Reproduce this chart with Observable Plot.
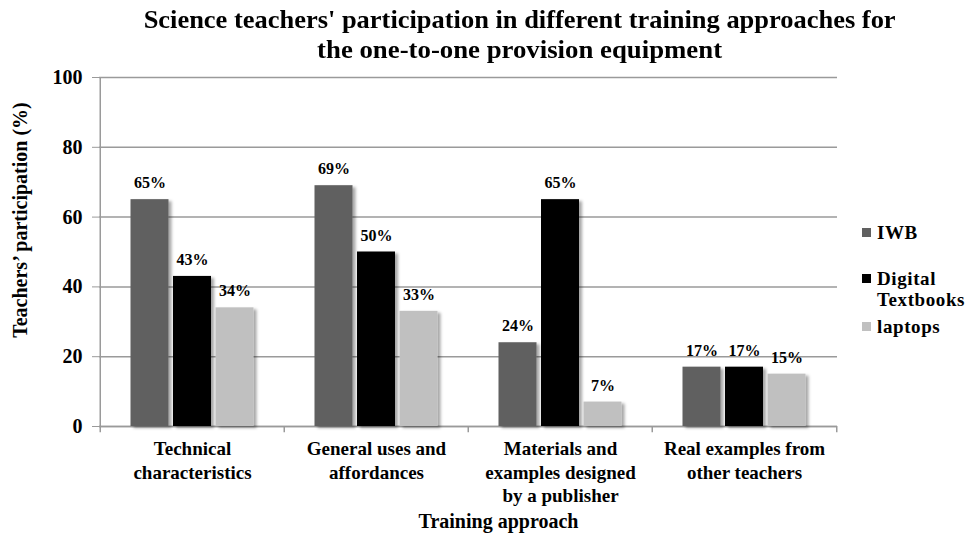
<!DOCTYPE html>
<html>
<head>
<meta charset="utf-8">
<script src="https://cdn.jsdelivr.net/npm/d3@7"></script>
<script src="https://cdn.jsdelivr.net/npm/@observablehq/plot@0.6"></script>
<style>
  body { margin: 0; background: #fff; }
  #wrap { position: relative; width: 971px; height: 533px; font-family: "Liberation Serif", "Times New Roman", serif; font-weight: bold; color: #000; }
  #title { height: 66px; box-sizing: border-box; padding-top: 5px; text-align: center; }
  #title span { display: inline-block; font-size: 26px; line-height: 30px; white-space: nowrap; transform-origin: center; }
  #chart svg, #chart svg text { font-family: "Liberation Serif", "Times New Roman", serif !important; font-weight: bold; }
  .leg { position: absolute; left: 862px; display: flex; align-items: flex-start; font-size: 19px; line-height: 21px; letter-spacing: 0.6px; }
  .leg i { display: inline-block; width: 9px; height: 9px; margin-top: 6px; margin-right: 6px; }
  .leg span { width: 100px; }
</style>
</head>
<body>
<div id="wrap">
  <div id="title"></div>
  <div id="chart"></div>
</div>
<script>
const titleLines = ["Science teachers' participation in  different training approaches for", "the one-to-one provision equipment"];
const categories = ["Technical characteristics", "General uses and affordances", "Materials and examples designed by a publisher", "Real examples from other teachers"];
const tickLabels = ["Technical\ncharacteristics", "General uses and\naffordances", "Materials and\nexamples designed\nby a publisher", "Real examples from\nother teachers"];
const seriesNames = ["IWB", "Digital Textbooks", "laptops"];
const iwb = [65, 69, 24, 17];
const digital = [43, 50, 65, 17];
const laptops = [34, 33, 7, 15];
const colors = ["#606060", "#000000", "#c0c0c0"];
const yTicks = [0, 20, 40, 60, 80, 100];
const xLabel = "Training approach";
const yLabel = "Teachers\u2019 participation (%)";

const seriesValues = [iwb, digital, laptops];
const rows = [];
seriesNames.forEach((s, si) => categories.forEach((c, ci) => rows.push({series: s, si, category: c, value: seriesValues[si][ci]})));

const FONT = '"Liberation Serif", "Times New Roman", serif';
const W = 971, H = 467, mL = 99, mR = 134, mT = 11, mB = 107;
const band = (W - mL - mR) / categories.length;
const step = 42.5, barW = 38.5;
const inset = (band - barW) / 2;

// title
const t = document.getElementById("title");
t.style.paddingLeft = "68px";
titleLines.forEach((line, i) => {
  const s = document.createElement("span");
  s.textContent = line;
  t.appendChild(s);
  t.appendChild(document.createElement("br"));
});

const marks = [
  Plot.gridY({ticks: yTicks, stroke: "#9a9a9a", strokeOpacity: 1, strokeWidth: 1.5}),
  Plot.ruleY([0], {stroke: "#9a9a9a", strokeWidth: 1.5}),
  Plot.ruleX(categories, {x: d => d, dx: -band / 2, y1: -1.8, y2: (d, i) => i === 0 ? 100 : 0, stroke: "#9a9a9a", strokeWidth: 1.5}),
  Plot.ruleX([categories[categories.length - 1]], {x: d => d, dx: band / 2, y1: -1.8, y2: 0, stroke: "#9a9a9a", strokeWidth: 1.5}),
];
seriesNames.forEach((s, si) => {
  const data = rows.filter(r => r.si === si);
  marks.push(Plot.barY(data, {x: "category", y: "value", fill: colors[si], dx: (si - 1) * step, insetLeft: inset, insetRight: inset}));
});
seriesNames.forEach((s, si) => {
  const data = rows.filter(r => r.si === si);
  marks.push(Plot.text(data, {x: "category", y: "value", text: d => d.value + "%", dx: (si - 1) * step, dy: -16.5, fontSize: 16, fontFamily: FONT, fontWeight: "bold", fill: "#000"}));
});
marks.push(
  Plot.axisY({ticks: yTicks, tickSize: 7, tickPadding: 10, fontSize: 20, fontFamily: FONT, fontWeight: "bold", stroke: "#9a9a9a", label: null}),
  Plot.axisX({tickSize: 0, tickPadding: 12, fontSize: 19, fontFamily: FONT, fontWeight: "bold", lineHeight: 1.24, tickFormat: d => tickLabels[categories.indexOf(d)], label: null}),
  Plot.text([xLabel], {frameAnchor: "bottom", text: d => d, dx: 30, dy: 101, fontSize: 20, fontFamily: FONT, fontWeight: "bold"}),
  Plot.text([yLabel], {frameAnchor: "left", textAnchor: "middle", text: d => d, rotate: -90, dx: -79, dy: -32, fontSize: 20, fontFamily: FONT, fontWeight: "bold"})
);

const chart = Plot.plot({
  width: W, height: H,
  marginLeft: mL, marginRight: mR, marginTop: mT, marginBottom: mB,
  style: {fontFamily: FONT, fontWeight: "bold", fontSize: "18px", color: "#000", background: "#fff"},
  x: {domain: categories, padding: 0, axis: null},
  y: {domain: [0, 100], axis: null},
  marks
});

// drop shadow for bars
const ns = "http://www.w3.org/2000/svg";
const defs = document.createElementNS(ns, "defs");
const f = document.createElementNS(ns, "filter");
f.setAttribute("id", "barShadow");
f.setAttribute("x", "-20%"); f.setAttribute("y", "-20%");
f.setAttribute("width", "150%"); f.setAttribute("height", "150%");
const ds = document.createElementNS(ns, "feDropShadow");
ds.setAttribute("dx", "3"); ds.setAttribute("dy", "2");
ds.setAttribute("stdDeviation", "1.5");
ds.setAttribute("flood-color", "#000"); ds.setAttribute("flood-opacity", "0.35");
f.appendChild(ds); defs.appendChild(f);
chart.insertBefore(defs, chart.firstChild);
chart.querySelectorAll('g[aria-label="bar"]').forEach(g => g.setAttribute("filter", "url(#barShadow)"));

document.getElementById("chart").appendChild(chart);

// fit title line widths
const titleWidths = [752, 405];
t.querySelectorAll("span").forEach((s, i) => {
  const w = s.getBoundingClientRect().width;
  s.style.transform = `scaleX(${titleWidths[i] / w})`;
});

// legend
const wrap = document.getElementById("wrap");
const legTops = [221.5, 267.5, 315.5];
seriesNames.forEach((s, si) => {
  const d = document.createElement("div");
  d.className = "leg";
  d.style.top = legTops[si] + "px";
  const sw = document.createElement("i");
  sw.style.background = colors[si];
  const tx = document.createElement("span");
  tx.textContent = s;
  d.appendChild(sw); d.appendChild(tx);
  wrap.appendChild(d);
});
</script>
</body>
</html>
